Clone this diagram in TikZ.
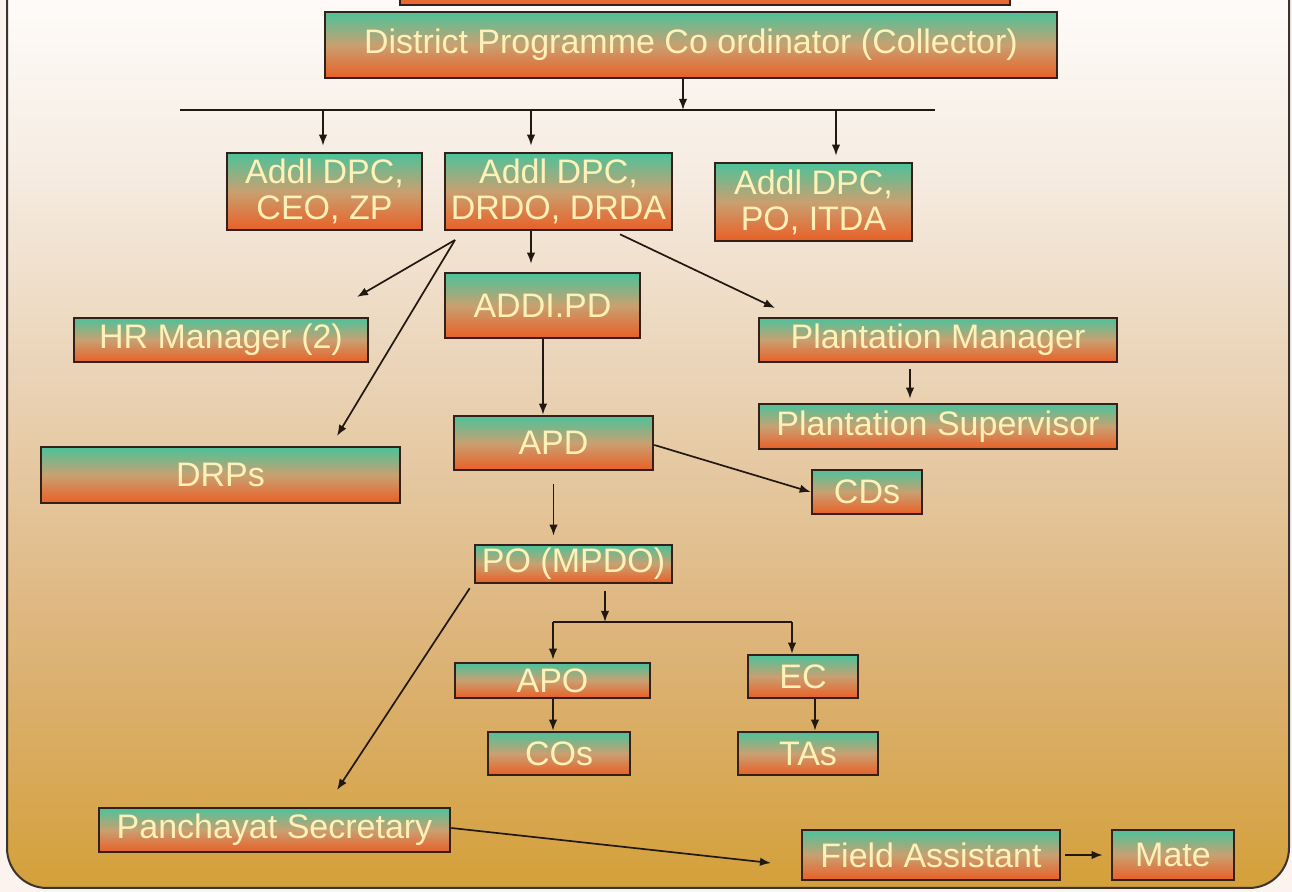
\documentclass[tikz,border=0pt]{standalone}
\usepackage{fontspec}
\setmainfont{Liberation Sans}
\usetikzlibrary{arrows.meta}
\definecolor{pagebg}{HTML}{FDF3EE}
\definecolor{bgTop}{HTML}{FDFAF7}
\definecolor{bgA}{HTML}{F6ECE2}
\definecolor{bgB}{HTML}{EAD3B6}
\definecolor{bgC}{HTML}{DDB47A}
\definecolor{bgD}{HTML}{D4A03A}
\definecolor{frameC}{HTML}{3A3430}
\definecolor{bxtop}{HTML}{4CC29A}
\definecolor{bxmid}{HTML}{C9A070}
\definecolor{bxbot}{HTML}{E95F27}
\definecolor{boxline}{HTML}{33201A}
\definecolor{txt}{HTML}{FFF1B8}
\definecolor{lineC}{HTML}{221812}
\definecolor{titlebar}{HTML}{E8692F}
\pgfdeclareverticalshading{bgshade}{100bp}{color(0bp)=(bgD); color(25bp)=(bgD); color(38bp)=(bgC); color(52bp)=(bgB); color(63bp)=(bgA); color(71bp)=(bgTop); color(100bp)=(bgTop)}
\begin{document}
\begin{tikzpicture}[x=0.5pt,y=-0.5pt,
  box/.style={draw=boxline, line width=1.3pt, top color=bxtop, bottom color=bxbot, middle color=bxmid,
    text=txt, font=\fontsize{17}{18}\selectfont, align=center, inner sep=0pt},
  conn/.style={line width=0.85pt, draw=lineC},
  arr/.style={conn, -{Latex[length=5.5pt,width=4.2pt]}}]
\useasboundingbox (0,0) rectangle (1292,892);
\fill[pagebg] (0,0) rectangle (1292,892);
\shade[shading=bgshade, draw=frameC, line width=1pt, rounded corners=20pt] (7,-60) rectangle (1289,888);
\draw[fill=titlebar, draw=boxline, line width=0.9pt] (400,-20) rectangle (1010,5);

% nodes
\node[box, minimum width=366pt, minimum height=33pt] (dpc) at (691,45) {District Programme Co ordinator (Collector)};
\node[box, minimum width=97.5pt, minimum height=38.5pt] (ceo) at (324.5,191.5) {Addl DPC,\\CEO, ZP};
\node[box, minimum width=113.5pt, minimum height=38.5pt] (drdo) at (558.5,191.5) {Addl DPC,\\DRDO, DRDA};
\node[box, minimum width=98.5pt, minimum height=39pt] (itda) at (813.5,202) {Addl DPC,\\PO, ITDA};
\node[box, minimum width=97.5pt, minimum height=32.5pt] (addipd) at (542.5,305.5) {ADDI.PD};
\node[box, minimum width=147pt, minimum height=22pt] (hr) at (221,340) {HR Manager (2)};
\node[box, minimum width=179.5pt, minimum height=28pt] (drps) at (220.5,475) {DRPs};
\node[box, minimum width=179pt, minimum height=22pt] (pm) at (938,340) {Plantation Manager};
\node[box, minimum width=179pt, minimum height=22.5pt] (ps) at (938,426.5) {Plantation Supervisor};
\node[box, minimum width=99.5pt, minimum height=27pt] (apd) at (553.5,443) {APD};
\node[box, minimum width=55pt, minimum height=22pt] (cds) at (867,492) {CDs};
\node[box, minimum width=98.5pt, minimum height=19pt] (po) at (573.5,564) {PO (MPDO)};
\node[box, minimum width=97.5pt, minimum height=17.5pt] (apo) at (552.5,680.5) {APO};
\node[box, minimum width=71pt, minimum height=21.5pt] (cos) at (559,753.5) {COs};
\node[box, minimum width=55pt, minimum height=21.5pt] (ec) at (803,676.5) {EC};
\node[box, minimum width=70pt, minimum height=21.5pt] (tas) at (808,753.5) {TAs};
\node[box, minimum width=175.5pt, minimum height=22pt] (pansec) at (274.5,830) {Panchayat Secretary};
\node[box, minimum width=129pt, minimum height=25pt] (fa) at (931,855) {Field Assistant};
\node[box, minimum width=61pt, minimum height=25pt] (mate) at (1173,855) {Mate};

% helper coordinates
\coordinate (busL) at (180,110);
\coordinate (busR) at (935,110);
\coordinate (xtop) at (683,0);
\coordinate (xc) at (323,0);
\coordinate (xd) at (531,0);
\coordinate (xi) at (836,0);
\coordinate (hub) at (455,240);
\coordinate (hrEnd) at (357,297);
\coordinate (drpsEnd) at (337,436);
\coordinate (xq) at (620,0);
\coordinate (pmEnd) at (775,308);
\coordinate (xp) at (910,0);
\coordinate (xa) at (543,0);
\coordinate (xs) at (605,0);
\coordinate (busBL) at (553,622);
\coordinate (busBR) at (792,622);
\coordinate (xt) at (815,0);
\coordinate (psEnd) at (337,790);
\coordinate (faEnd) at (771,863);

% connectors
\draw[arr] (xtop |- dpc.south) -- (xtop |- busL);
\draw[conn] (busL) -- (busR);
\draw[arr] (xc |- busL) -- ([yshift=3pt]xc |- ceo.north);
\draw[arr] (xd |- busL) -- ([yshift=3pt]xd |- drdo.north);
\draw[arr] (xi |- busL) -- ([yshift=3pt]xi |- itda.north);
\draw[arr] (xd |- drdo.south) -- ([yshift=4pt]xd |- addipd.north);
\draw[arr] (hub) -- (hrEnd);
\draw[arr] (hub) -- (drpsEnd);
\draw[arr] ([yshift=-1.5pt]xq |- drdo.south) -- (pmEnd);
\draw[arr] ([yshift=-3pt]xp |- pm.south) -- ([yshift=2pt]xp |- ps.north);
\draw[arr] (xa |- addipd.south) -- (xa |- apd.north);
\draw[arr] ([yshift=-1pt]apd.east) -- (cds.west);
\draw[arr] ([yshift=-6.5pt]apd.south) -- ([yshift=4pt]apd.south |- po.north);
\draw[arr] ([yshift=-3.5pt]xs |- po.south) -- (xs |- busBL);
\draw[conn] (busBL) -- (busBR);
\draw[arr] (busBL) -- ([yshift=1pt]busBL |- apo.north);
\draw[arr] (busBR) -- (busBR |- ec.north);
\draw[arr] (busBL |- apo.south) -- (busBL |- cos.north);
\draw[arr] (xt |- ec.south) -- (xt |- tas.north);
\draw[arr] ([xshift=-2pt,yshift=-2pt]po.south west) -- (psEnd);
\draw[arr] ([yshift=1pt]pansec.east) -- (faEnd);
\draw[arr] ([xshift=2pt]fa.east) -- ([xshift=-4pt]mate.west);
\end{tikzpicture}
\end{document}
